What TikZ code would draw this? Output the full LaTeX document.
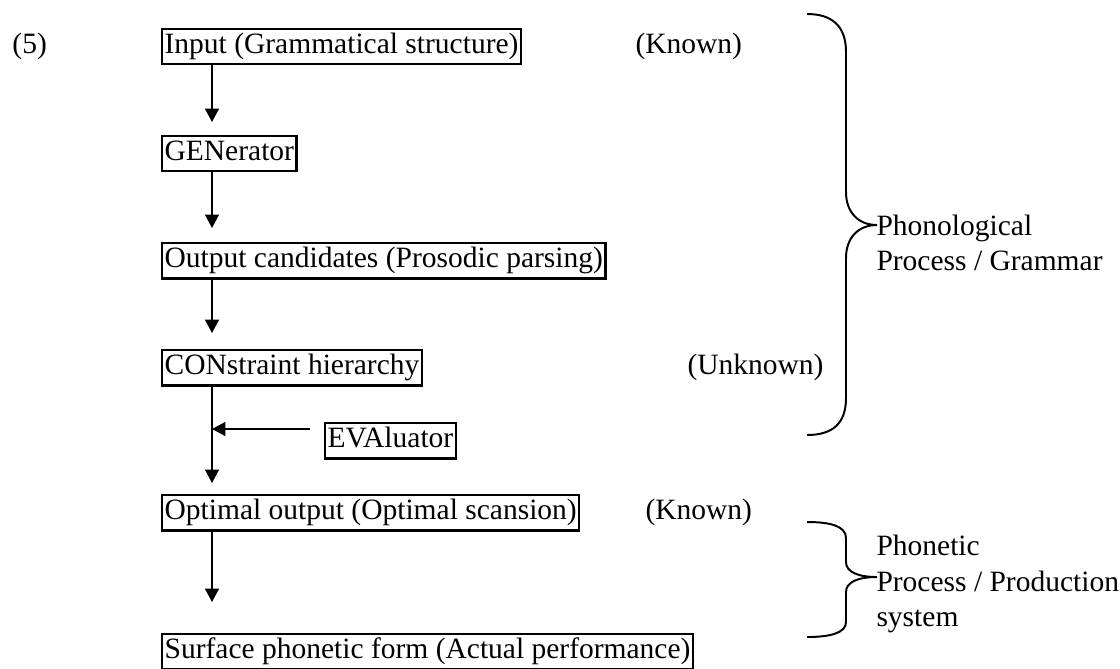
\documentclass[tikz,border=0pt]{standalone}
\usepackage{fontspec}
\setmainfont{Liberation Serif}
\usepackage{tikz}
\usetikzlibrary{arrows.meta}

\tikzset{
	stage/.style={draw, line width=0.95pt, anchor=north west, inner xsep=1pt, inner ysep=0pt,
		text height=10pt, text depth=4.3pt},
	flow/.style={-{Triangle[width=5.6pt,length=5.4pt]}, line width=0.6pt},
	note/.style={anchor=base west, inner sep=0pt},
	side/.style={anchor=west, align=left, inner sep=0pt},
	curly/.style={line width=0.8pt}
}

\begin{document}
\begin{tikzpicture}[x=0.4068pt, y=-0.4068pt, font=\fontsize{12pt}{14.4pt}\selectfont]

		% === figure bounds (pixels of the page) ===
		\useasboundingbox (0,0) rectangle (1120,668);

		% === Stages ===
		\node[stage] (input) at (161,28)  {Input (Grammatical structure)\ };
		\node[stage] (gen)   at (161,135) {GENerator};
		\node[stage] (cand)  at (161,242) {Output candidates (Prosodic parsing)};
		\node[stage] (con)   at (161,349) {CONstraint hierarchy};
		\node[stage] (eval)  at (324,422) {EVAluator};
		\node[stage] (opt)   at (161,494) {Optimal output (Optimal scansion)};
		\node[stage] (surf)  at (161,633) {Surface phonetic form (Actual performance)};

		% === Arrows down the left ===
		\coordinate (spine) at (212,0);
		\foreach \a/\b/\g in {input/gen/13, gen/cand/14, cand/con/16, con/opt/11, opt/surf/31} {
			\draw[flow, shorten >=\g*0.4068pt] (spine |- \a.south) -- (spine |- \b.north);
		}
		\coordinate (evalfoot) at (310,429);
		\draw[flow] (evalfoot) -- (spine |- evalfoot);	% evaluator feeds in

		% === Side notes ===
		\node[note] (exno)     at (12,0 |- input.base)  {(5)};
		\node[note] (known)    at (635,0 |- input.base) {(Known)};
		\node[note] (unknown)  at (687,0 |- con.base)   {(Unknown)};
		\node[note] (knownopt) at (645,0 |- opt.base)   {(Known)};

		% === Braces ===
		\draw[curly] (807,14) .. controls (832,14) and (846,26) .. (846,52) -- (846,192)
			.. controls (846,212) and (858,225) .. (877,225)
			.. controls (858,225) and (846,238) .. (846,258) -- (846,398)
			.. controls (846,424) and (832,435) .. (807,435);
		\draw[curly] (807,522) .. controls (830,522) and (846,526) .. (846,538) -- (846,562)
			.. controls (846,572) and (858,577) .. (877,577)
			.. controls (858,577) and (846,582) .. (846,592) -- (846,622)
			.. controls (846,633) and (830,637) .. (807,637);

		\node[side] (phonol) at (876,243) {Phonological\\Process / Grammar};
		\node[side] (phonet) at (876,584) {Phonetic\\Process / Production\\system};
	\end{tikzpicture}
\end{document}
